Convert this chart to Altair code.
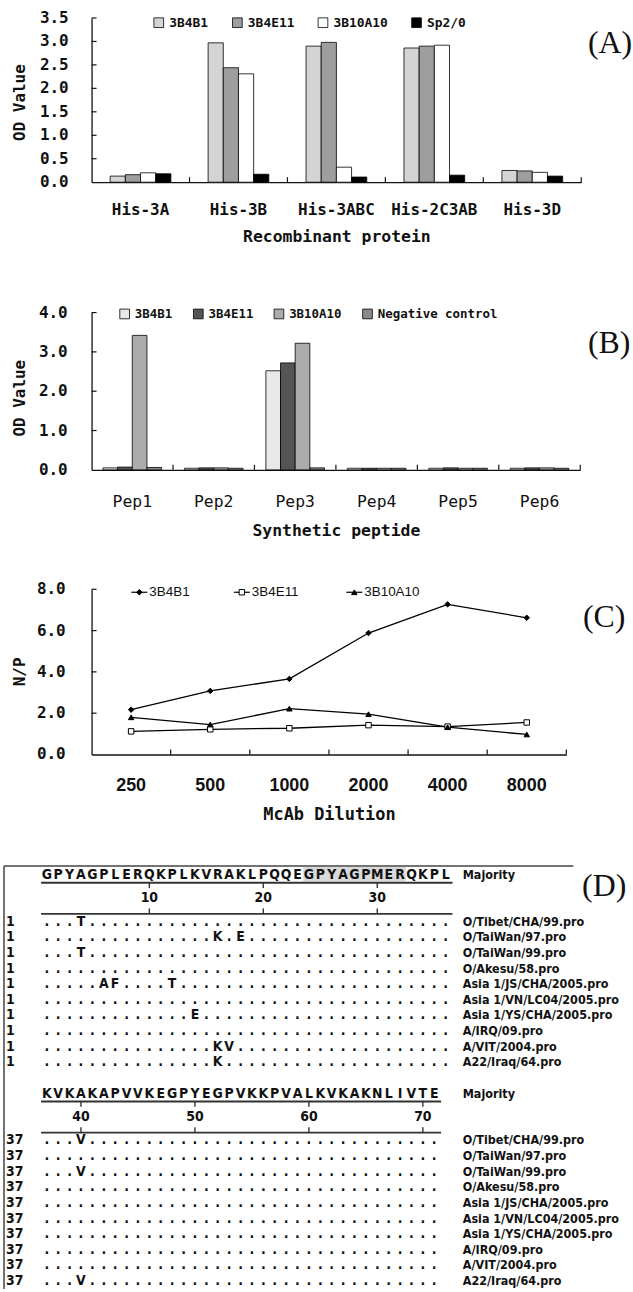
import altair as alt
import pandas as pd

MONO = "DejaVu Sans Mono"
SANS = "Liberation Sans"
SERIF = "Liberation Serif"
NARROW = "Liberation Sans Narrow, DejaVu Sans Condensed, Liberation Sans, sans-serif"
INK = "#111111"

# ---------------- Panel A data ----------------
A_PROTEINS = ["His-3A", "His-3B", "His-3ABC", "His-2C3AB", "His-3D"]
A_SERIES = ["3B4B1", "3B4E11", "3B10A10", "Sp2/0"]
A_3B4B1 = [0.13, 2.97, 2.90, 2.86, 0.25]
A_3B4E11 = [0.16, 2.44, 2.98, 2.90, 0.24]
A_3B10A10 = [0.20, 2.31, 0.32, 2.92, 0.21]
A_SP20 = [0.18, 0.17, 0.11, 0.15, 0.13]
A_YTICKS = [0.0, 0.5, 1.0, 1.5, 2.0, 2.5, 3.0, 3.5]
A_FILLS = ["#d4d4d4", "#9e9e9e", "#ffffff", "#000000"]

# ---------------- Panel B data ----------------
B_PEPTIDES = ["Pep1", "Pep2", "Pep3", "Pep4", "Pep5", "Pep6"]
B_SERIES = ["3B4B1", "3B4E11", "3B10A10", "Negative control"]
B_3B4B1 = [0.05, 0.04, 2.52, 0.04, 0.04, 0.04]
B_3B4E11 = [0.07, 0.05, 2.72, 0.04, 0.05, 0.05]
B_3B10A10 = [3.42, 0.05, 3.22, 0.04, 0.04, 0.05]
B_NEG = [0.06, 0.04, 0.05, 0.04, 0.04, 0.04]
B_YTICKS = [0.0, 1.0, 2.0, 3.0, 4.0]
B_FILLS = ["#e8e8e8", "#555555", "#ababab", "#8a8a8a"]

# ---------------- Panel C data ----------------
C_DILUTIONS = ["250", "500", "1000", "2000", "4000", "8000"]
C_SERIES = ["3B4B1", "3B4E11", "3B10A10"]
C_3B4B1 = [2.17, 3.08, 3.66, 5.88, 7.27, 6.62]
C_3B4E11 = [1.12, 1.22, 1.27, 1.42, 1.35, 1.55]
C_3B10A10 = [1.80, 1.45, 2.22, 1.95, 1.32, 0.97]
C_YTICKS = [0.0, 2.0, 4.0, 6.0, 8.0]
C_SHAPES = ["diamond", "square", "triangle-up"]
C_MARKER_FILLS = ["black", "white", "black"]

# ---------------- Panel D data ----------------
D_STRAINS = ["O/Tibet/CHA/99.pro", "O/TaiWan/97.pro", "O/TaiWan/99.pro", "O/Akesu/58.pro",
             "Asia 1/JS/CHA/2005.pro", "Asia 1/VN/LC04/2005.pro", "Asia 1/YS/CHA/2005.pro",
             "A/IRQ/09.pro", "A/VIT/2004.pro", "A22/Iraq/64.pro"]
D_START = [1, 37]
D_MAJORITY = ["GPYAGPLERQKPLKVRAKLPQQEGPYAGPMERQKPL", "KVKAKAPVVKEGPYEGPVKKPVALKVKAKNLIVTE"]
D_RULER = [[10, 20, 30], [40, 50, 60, 70]]
D_MUTATIONS_1 = [{4: "T"}, {16: "K", 18: "E"}, {4: "T"}, {}, {6: "A", 7: "F", 12: "T"},
                 {}, {14: "E"}, {}, {16: "K", 17: "V"}, {16: "K"}]
D_MUTATIONS_2 = [{40: "V"}, {}, {40: "V"}, {}, {}, {}, {}, {}, {}, {40: "V"}]
D_HIGHLIGHT = [24, 32]

ONE = pd.DataFrame({"k": [0]})
LEFT_EDGE = -88  # plot origin is 88 px right of the page's left margin


def band_rule(top, bottom):
    return alt.Chart(ONE).mark_rule(opacity=0).encode(
        x=alt.value(LEFT_EDGE), y=alt.value(top), y2=alt.value(bottom))


def tag_text(tag, x, y):
    return alt.Chart(ONE).mark_text(font=SERIF, fontSize=32, color=INK, align="center",
                                    baseline="middle").encode(
        x=alt.value(x), y=alt.value(y), text=alt.value(tag))


def y_title(title, x, y):
    return alt.Chart(ONE).mark_text(font=MONO, fontSize=16, fontWeight="bold", color=INK, angle=270,
                                    align="center", baseline="middle").encode(
        x=alt.value(x), y=alt.value(y), text=alt.value(title))


def y_labels(field, values, dx):
    return alt.Chart(pd.DataFrame({field: values})).mark_text(
        font=MONO, fontSize=16, fontWeight="bold", color=INK, align="right", baseline="middle").encode(
        y=alt.Y(field + ":Q"), x=alt.value(dx), text=alt.Text(field + ":Q", format=".1f"))


def y_ticks(field, values):
    return alt.Chart(pd.DataFrame({field: values})).mark_rule(color="#111", strokeWidth=1.2).encode(
        y=alt.Y(field + ":Q"), x=alt.value(0), x2=alt.value(5))


Y_AXIS = alt.Axis(title=None, labels=False, ticks=False, tickSize=0, grid=False,
                  domainColor="#111", domainWidth=1.3)


def x_axis(title, lfont, lsize, lweight, label_pad, title_pad, tsize):
    return alt.Axis(title=title, labelAngle=0, ticks=False, tickSize=0, grid=False,
                    labelOverlap=False,
                    labelPadding=label_pad, titlePadding=title_pad, labelFont=lfont,
                    labelFontSize=lsize, labelFontWeight=lweight, labelColor=INK,
                    titleFont=MONO, titleFontSize=tsize, titleFontWeight="bold", titleColor=INK,
                    domainColor="#111", domainWidth=1.3)


def bar_panel(cats, series, columns, fills, ymax, yticks, width, height, group_frac,
              xtitle, lfont, lsize, lweight, label_pad, title_pad, ylabel_dx, ytitle_y,
              legend_x, legend_y, legend_size, legend_colpad, tag, tag_x, tag_y, band):
    recs = []
    for i, c in enumerate(cats):
        for s, col in zip(series, columns):
            recs.append({"cat": c, "series": s, "val": col[i]})
    df = pd.DataFrame(recs)
    n = len(series)
    spare = (n / group_frac - n) / 2  # empty slots needed each side of a group
    k = 0
    while spare - k > 1:
        k += 1
    off_domain = ["_l%d" % i for i in range(k)] + list(series) + ["_r%d" % i for i in range(k)]
    off_outer = spare - k
    xscale = alt.Scale(domain=cats, paddingInner=0, paddingOuter=0)
    yscale = alt.Scale(domain=[0, ymax], nice=False)
    bars = alt.Chart(df).mark_bar(stroke="black", strokeWidth=0.8).encode(
        x=alt.X("cat:N", sort=cats, scale=xscale,
                axis=x_axis(xtitle, lfont, lsize, lweight, label_pad, title_pad, 16.5)),
        xOffset=alt.XOffset("series:N",
                            scale=alt.Scale(domain=off_domain, paddingInner=0, paddingOuter=off_outer)),
        y=alt.Y("val:Q", scale=yscale, axis=Y_AXIS),
        fill=alt.Fill("series:N", sort=series, scale=alt.Scale(domain=series, range=fills),
                      legend=alt.Legend(title=None, orient="none", legendX=legend_x,
                                        legendY=legend_y, direction="horizontal",
                                        symbolType="square", symbolSize=95,
                                        symbolStrokeColor="black", symbolStrokeWidth=0.8,
                                        labelFont=MONO, labelFontSize=legend_size,
                                        labelFontWeight="bold", labelColor=INK, labelOffset=4,
                                        columnPadding=legend_colpad, padding=0)),
    )
    xt = alt.Chart(pd.DataFrame({"cat": cats})).mark_rule(color="#111", strokeWidth=1.2).encode(
        x=alt.X("cat:N", sort=cats, bandPosition=1), y=alt.value(height), y2=alt.value(height - 5))
    return alt.layer(bars, y_ticks("val", yticks[1:]), y_labels("val", yticks, ylabel_dx), xt,
                     y_title("OD Value", -72, ytitle_y), tag_text(tag, tag_x, tag_y),
                     band_rule(*band)).properties(width=width, height=height)


panelA = bar_panel(A_PROTEINS, A_SERIES, [A_3B4B1, A_3B4E11, A_3B10A10, A_SP20], A_FILLS,
                   3.5, A_YTICKS, 492, 165, 0.62, "Recombinant protein", MONO, 16, "bold",
                   19, 12, -23, 85, 61, -2, 13, 22, "(A)", 521, 25, (-15, 235))

panelB = bar_panel(B_PEPTIDES, B_SERIES, [B_3B4B1, B_3B4E11, B_3B10A10, B_NEG], B_FILLS,
                   4.0, B_YTICKS, 491, 158, 0.72, "Synthetic peptide", MONO, 16.5, "normal",
                   24, 12, -24, 86, 27, -5, 12.5, 18, "(B)", 520, 31, (-61, 234))

# ---------------- Panel C ----------------
recC = []
for i, d in enumerate(C_DILUTIONS):
    for s, col in zip(C_SERIES, [C_3B4B1, C_3B4E11, C_3B10A10]):
        recC.append({"dil": d, "series": s, "np": col[i]})
dfC = pd.DataFrame(recC)
xsC = alt.Scale(domain=C_DILUTIONS, paddingInner=0, paddingOuter=0)
ysC = alt.Scale(domain=[0, 8], nice=False)
xC = alt.X("dil:N", sort=C_DILUTIONS, scale=xsC,
           axis=x_axis("McAb Dilution", SANS, 18, "bold", 22, 12, 17))
yC = alt.Y("np:Q", scale=ysC, axis=Y_AXIS)
linesC = alt.Chart(dfC).mark_line(color="black", strokeWidth=1.3).encode(x=xC, y=yC, detail="series:N")
ptsC = alt.Chart(dfC).mark_point(filled=True, stroke="black", strokeWidth=1, opacity=1, size=30).encode(
    x=xC, y=yC,
    shape=alt.Shape("series:N", scale=alt.Scale(domain=C_SERIES, range=C_SHAPES), legend=None),
    fill=alt.Fill("series:N", scale=alt.Scale(domain=C_SERIES, range=C_MARKER_FILLS), legend=None))
xtC = alt.Chart(pd.DataFrame({"dil": C_DILUTIONS})).mark_rule(color="#111", strokeWidth=1.2).encode(
    x=alt.X("dil:N", sort=C_DILUTIONS, bandPosition=1), y=alt.value(166), y2=alt.value(161))

legend_layers = []
C_LEG_X = [48, 151, 264]
C_LEG_Y = 3
for s, shp, fc, lx in zip(C_SERIES, C_SHAPES, C_MARKER_FILLS, C_LEG_X):
    legend_layers.append(alt.Chart(ONE).mark_rule(color="black", strokeWidth=1.2).encode(
        x=alt.value(lx - 8), x2=alt.value(lx + 8), y=alt.value(C_LEG_Y)))
    legend_layers.append(alt.Chart(ONE).mark_point(filled=True, fill=fc, stroke="black", strokeWidth=1,
                                                   opacity=1, shape=shp, size=30).encode(
        x=alt.value(lx), y=alt.value(C_LEG_Y)))
    legend_layers.append(alt.Chart(ONE).mark_text(font=SANS, fontSize=13.5, color=INK, align="left",
                                                  baseline="middle").encode(
        x=alt.value(lx + 10), y=alt.value(C_LEG_Y), text=alt.value(s)))

panelC = alt.layer(linesC, ptsC, y_ticks("np", C_YTICKS[1:]), y_labels("np", C_YTICKS, -26), xtC,
                   *legend_layers, y_title("N/P", -72, 83), tag_text("(C)", 515, 28),
                   band_rule(-44, 271)).properties(width=477, height=166)

# ---------------- Panel D ----------------
letters, rulers_txt, rownums, names = [], [], [], []
hlines, vlines = [], []
for b, (start, maj, muts, ruler) in enumerate(zip(D_START, D_MAJORITY, [D_MUTATIONS_1, D_MUTATIONS_2], D_RULER)):
    mrow = b * 14 - 3
    n = len(maj)
    for j, ch in enumerate(maj):
        letters.append({"c": j + 1, "r": mrow, "ch": ch})
    names.append({"c": 37.5, "r": mrow, "t": "Majority"})
    for i, strain in enumerate(D_STRAINS):
        r = b * 14 + i
        for j in range(n):
            res = start + j
            letters.append({"c": j + 1, "r": r, "ch": muts[i].get(res, ".")})
        rownums.append({"c": -2.58, "r": r, "t": str(start)})
        names.append({"c": 37.5, "r": r, "t": strain})
    line_end = n + 0.6
    hlines.append({"c1": 0.5, "c2": line_end, "r": mrow + 0.5, "w": 2.0})
    hlines.append({"c1": 0.5, "c2": line_end, "r": mrow + 2.5, "w": 1.6})
    for t in ruler:
        cc = t - start + 1
        rulers_txt.append({"c": cc, "r": mrow + 1.5, "t": str(t)})
        vlines.append({"c": cc, "r1": mrow + 0.5, "r2": mrow + 0.85})
        vlines.append({"c": cc, "r1": mrow + 2.5, "r2": mrow + 2.15})

dfL = pd.DataFrame(letters)
dfR = pd.DataFrame(rulers_txt)
dfN = pd.DataFrame(rownums)
dfS = pd.DataFrame(names)
dfH = pd.DataFrame(hlines)
dfV = pd.DataFrame(vlines)
dfHi = pd.DataFrame({"c1": [D_HIGHLIGHT[0] - 0.5], "c2": [D_HIGHLIGHT[1] + 0.5], "r1": [-3.5], "r2": [-2.58]})
dfBorderH = pd.DataFrame({"c1": [-2.755], "c2": [47.2], "r": [-3.567]})
dfBorderV = pd.DataFrame({"c": [-2.755], "r1": [-3.567], "r2": [23.503]})

dxs = alt.Scale(domain=[4.930, 52.266], nice=False, zero=False)
dys = alt.Scale(domain=[-4.013, 23.503], nice=False, zero=False, reverse=True)


def DX(f):
    return alt.X(f, type="quantitative", scale=dxs, axis=None)


def DY(f):
    return alt.Y(f, type="quantitative", scale=dys, axis=None)


hi = alt.Chart(dfHi).mark_rect(color="#d9d9d9").encode(x=DX("c1"), x2="c2", y=DY("r1"), y2="r2")
hl = alt.Chart(dfH).mark_rule(color="#333").encode(x=DX("c1"), x2="c2", y=DY("r"),
                                                  strokeWidth=alt.StrokeWidth("w:Q", scale=None))
vl = alt.Chart(dfV).mark_rule(color="#333", strokeWidth=1.4).encode(x=DX("c"), y=DY("r1"), y2="r2")
bh = alt.Chart(dfBorderH).mark_rule(color="#444", strokeWidth=1.5).encode(x=DX("c1"), x2="c2", y=DY("r"))
bv = alt.Chart(dfBorderV).mark_rule(color="#444", strokeWidth=1.5).encode(x=DX("c"), y=DY("r1"), y2="r2")
lt = alt.Chart(dfL).mark_text(font=NARROW, fontSize=14, fontWeight="bold", color=INK, align="center",
                              baseline="middle").encode(x=DX("c"), y=DY("r"), text="ch:N")
rt = alt.Chart(dfR).mark_text(font=NARROW, fontSize=14, fontWeight="bold", color=INK, align="center",
                              baseline="middle").encode(x=DX("c"), y=DY("r"), text="t:N")
nt = alt.Chart(dfN).mark_text(font=NARROW, fontSize=14, fontWeight="bold", color=INK, align="left",
                              baseline="middle").encode(x=DX("c"), y=DY("r"), text="t:N")
st = alt.Chart(dfS).mark_text(font=NARROW, fontSize=12.5, fontWeight="bold", color=INK, align="left",
                              baseline="middle").encode(x=DX("c"), y=DY("r"), text="t:N")

panelD = alt.layer(hi, hl, vl, bh, bv, lt, rt, nt, st, tag_text("(D)", 515, 27),
                   band_rule(0, 432)).properties(width=542, height=432)

chart = alt.vconcat(panelA, panelB, panelC, panelD, spacing=0).resolve_scale(
    x="independent", y="independent", fill="independent", shape="independent",
    xOffset="independent").configure(
    padding={"left": 3, "top": 0, "right": 0, "bottom": 0}, background="white").configure_view(stroke=None)

chart.save("out.html", embed_options={"renderer": "svg", "actions": False})
